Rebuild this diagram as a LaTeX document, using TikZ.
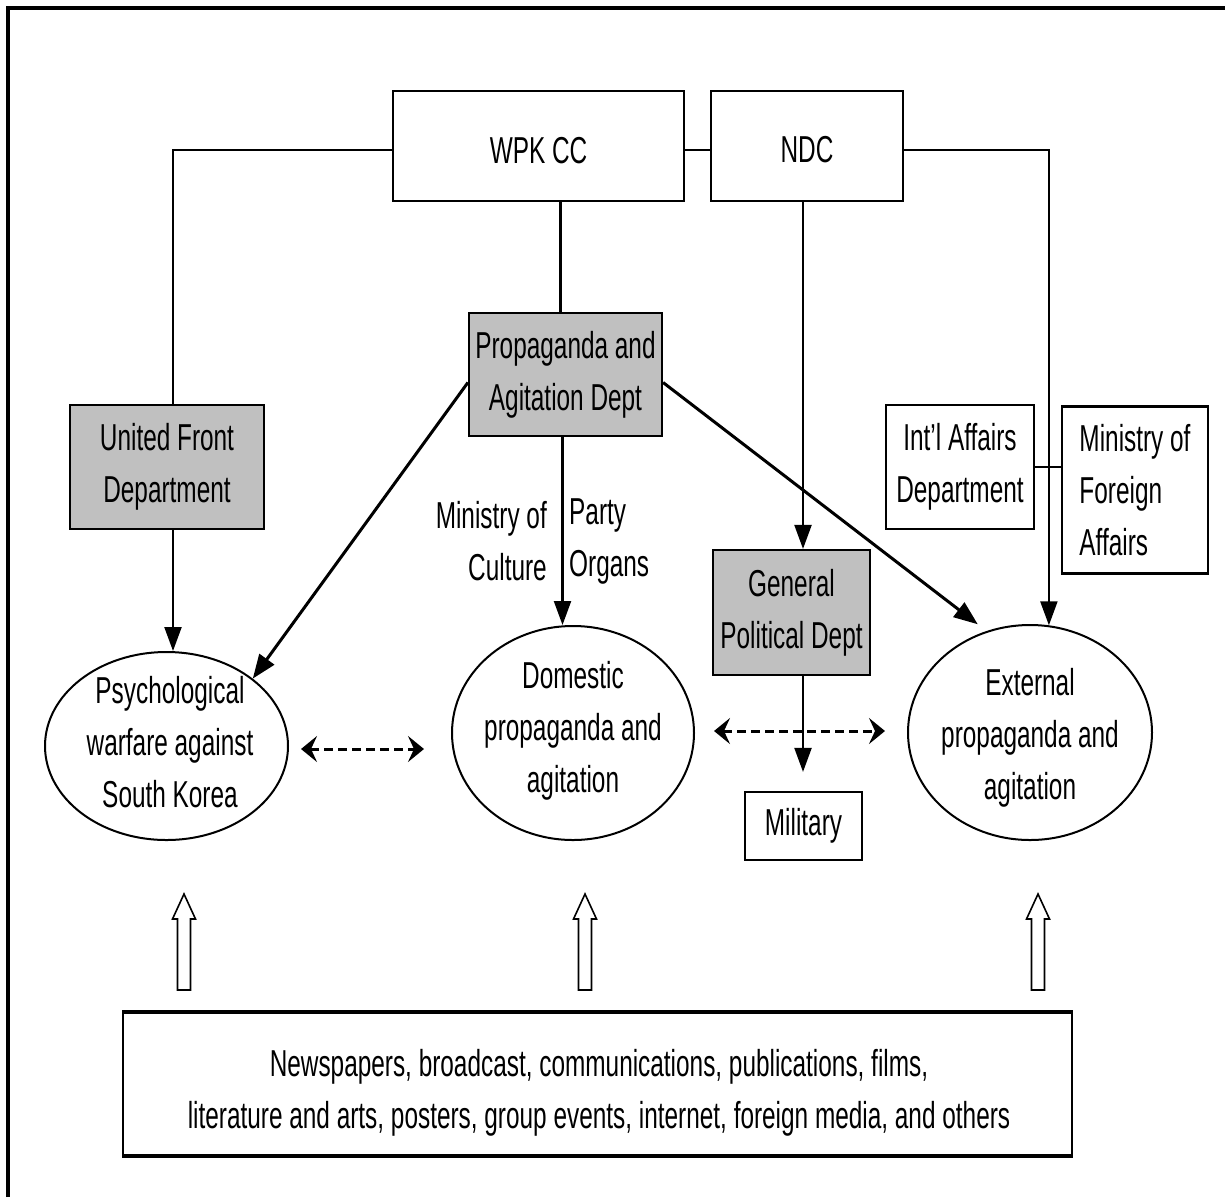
\documentclass[tikz,border=0pt]{standalone}
\usepackage{fontspec}
\setmainfont{Liberation Sans}[FakeStretch=0.65]
\usetikzlibrary{shapes.geometric,arrows.meta,calc}
\definecolor{boxgray}{RGB}{192,192,192}
\begin{document}
\begin{tikzpicture}[x=1pt,y=-1pt,
  every node/.style={font=\fontsize{37.5}{52}\selectfont,inner sep=0pt},
  box/.style={draw,line width=2.2pt,rectangle,align=center},
  graybox/.style={box,fill=boxgray},
  oval/.style={draw,line width=2pt,ellipse},
  conn/.style={line width=2.2pt},
  arr/.style={conn,-{Triangle[length=24pt,width=17pt]}},
  thickarr/.style={line width=3pt,-{Triangle[length=24pt,width=18pt]}},
  dasharr/.style={line width=3pt,dash pattern=on 9pt off 5pt,
    {Stealth[length=16pt,width=26pt,inset=6pt]}-{Stealth[length=16pt,width=26pt,inset=6pt]}},
  hollow/.style={line width=1.6pt,fill=white},
]
\useasboundingbox (0,0) rectangle (1225,1197);
\fill[white] (0,0) rectangle (1225,1197);
\draw[line width=3.5pt] (8,1197) -- (8,8) -- (1225,8);

% boxes
\node[box, minimum width=291pt, minimum height=110pt] (wpk) at (538.5,146) {\raisebox{-5pt}[\height][\depth]{WPK CC}};
\node[box, minimum width=192pt, minimum height=110pt] (ndc) at (807,146) {\raisebox{-4pt}[\height][\depth]{NDC}};
\node[graybox, minimum width=193pt, minimum height=123pt] (pad) at (565.5,374.5) {Propaganda and\\Agitation Dept};
\node[graybox, minimum width=194pt, minimum height=124pt] (ufd) at (167,467) {United Front\\Department};
\node[graybox, minimum width=157pt, minimum height=125pt] (gpd) at (791.5,612.5) {General\\Political Dept};
\node[box, minimum width=148pt, minimum height=124pt] (iad) at (960,467) {Int'l Affairs\\Department};
\node[box, minimum width=146pt, minimum height=167pt, align=left] (mfa) at (1135,490) {Ministry of\\Foreign\\Affairs};
\node[box, minimum width=117pt, minimum height=68pt] (mil) at (803.5,826) {Military};

% ellipses
\node[oval, minimum width=243pt, minimum height=188pt] (e1) at (166.5,746) {};
\node[align=center] (e1t) at (170,742) {Psychological\\warfare against\\South Korea};
\node[oval, minimum width=242pt, minimum height=214pt] (e2) at (573,733) {};
\node[align=center] (e2t) at (573,731) {Domestic\\propaganda and\\agitation};
\node[oval, minimum width=244pt, minimum height=215pt] (e3) at (1030,732.5) {};
\node[align=center] (e3t) at (1030,738) {External\\propaganda and\\agitation};

% media box
\node[box, line width=1.8pt, minimum width=949pt, minimum height=142pt] (media) at (597.5,1084) {};
\node[align=center] (mediat) at (599,1093)
  {Newspapers, broadcast, communications, publications, films,\\literature and arts, posters, group events, internet, foreign media, and others};
\draw[line width=3.5pt] (media.north west) -- (media.north east);
\draw[line width=3.5pt] (media.south west) -- (media.south east);

% labels
\node[anchor=east, align=right] (moc) at (547,541) {Ministry of\\Culture};
\node[anchor=west, align=left] (po) at (569,541) {Party\\Organs};

% connectors
\coordinate (ux) at ([xshift=6pt]ufd.north);
\draw[conn] ([yshift=-4pt]wpk.west) -| (ux);
\draw[conn] ([yshift=-4pt]wpk.east) -- ([yshift=-4pt]ndc.west);
\draw[arr] ([yshift=-4pt]ndc.east) -| (e3.80);
\draw[conn] (iad.east) -- (mfa.west |- iad.east);
\draw[conn] ([xshift=-5pt]pad.north) -- ([xshift=-5pt]pad.north |- wpk.south);
\draw[arr] ([xshift=-3pt]pad.south) -- ([xshift=-3pt]pad.south |- e2.north);
\coordinate (uy) at ([xshift=6pt]ufd.south);
\draw[arr] (uy) -- (uy |- e1.north);
\draw[thickarr] ([yshift=-8pt]pad.west) -- (e1.38);
\draw[thickarr] ([yshift=-8pt]pad.east) -- ([yshift=10pt]e3.118);
\coordinate (vx) at ([xshift=-4pt]ndc.south);
\draw[arr] (vx) -- (vx |- gpd.north);
\draw[arr, shorten >=19pt] (vx |- gpd.south) -- (vx |- mil.north);

% dashed double arrows
\draw[dasharr] ([xshift=12pt,yshift=-3pt]e1.east) -- ([xshift=-27pt,yshift=-16pt]e2.west);
\draw[dasharr] ([xshift=19pt,yshift=2pt]e2.east) -- ([xshift=-22pt,yshift=1.5pt]e3.west);

% hollow arrows
\foreach \x in {184,585,1038}
  \draw[hollow] (\x-6.5,990) -- (\x-6.5,919) -- (\x-11.5,919) -- (\x,894)
    -- (\x+11.5,919) -- (\x+6.5,919) -- (\x+6.5,990) -- cycle;
\end{tikzpicture}
\end{document}
